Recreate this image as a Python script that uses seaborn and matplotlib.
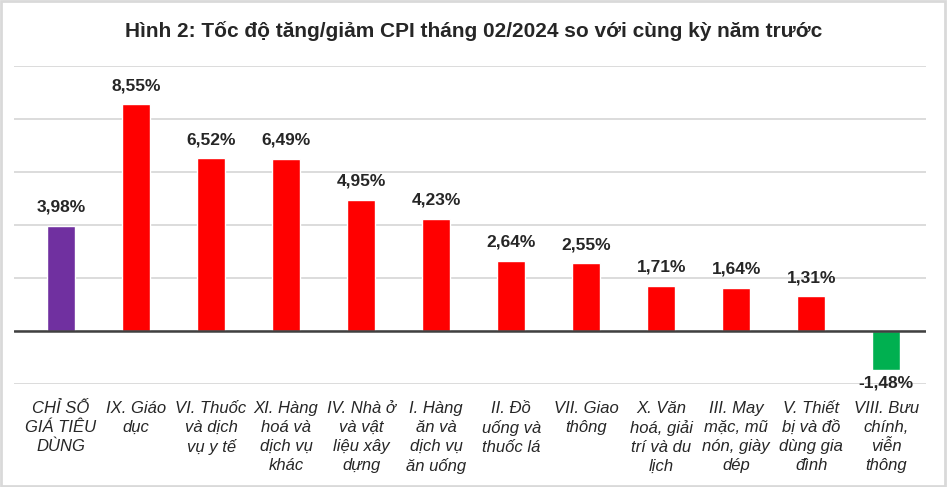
import matplotlib
matplotlib.use("Agg")
import matplotlib.pyplot as plt
import seaborn as sns
import pandas as pd

categories = [
    "CHỈ SỐ\nGIÁ TIÊU\nDÙNG",
    "IX. Giáo\ndục",
    "VI. Thuốc\nvà dịch\nvụ y tế",
    "XI. Hàng\nhoá và\ndịch vụ\nkhác",
    "IV. Nhà ở\nvà vật\nliệu xây\ndựng",
    "I. Hàng\năn và\ndịch vụ\năn uống",
    "II. Đồ\nuống và\nthuốc lá",
    "VII. Giao\nthông",
    "X. Văn\nhoá, giải\ntrí và du\nlịch",
    "III. May\nmặc, mũ\nnón, giày\ndép",
    "V. Thiết\nbị và đồ\ndùng gia\nđình",
    "VIII. Bưu\nchính,\nviễn\nthông",
]
values = [3.98, 8.55, 6.52, 6.49, 4.95, 4.23, 2.64, 2.55, 1.71, 1.64, 1.31, -1.48]
colors = ["#7030A0"] + ["#FF0000"] * 10 + ["#00B050"]
title = "Hình 2: Tốc độ tăng/giảm CPI tháng 02/2024 so với cùng kỳ năm trước"

df = pd.DataFrame({"cat": categories, "val": values})

sns.set_theme(style="white")
plt.rcParams["font.family"] = ["Liberation Sans", "DejaVu Sans"]

fig = plt.figure(figsize=(9.47, 4.87), dpi=100)
ax = fig.add_axes([0.0148, 0.2115, 0.963, 0.653])

sns.barplot(data=df, x="cat", y="val", hue="cat", palette=colors,
            legend=False, width=0.37, saturation=1, ax=ax)

ax.set_ylim(-2, 10)
ax.set_xlim(-0.627, 11.53)
ax.set_yticks([-2, 0, 2, 4, 6, 8, 10])
ax.yaxis.grid(True, color="#d9d9d9", linewidth=1.3)
ax.set_axisbelow(True)
ax.axhline(0, color="#404040", linewidth=1.8)
for s in ax.spines.values():
    s.set_visible(False)
ax.tick_params(axis="y", left=False, labelleft=False)
ax.tick_params(axis="x", bottom=False, pad=6)
ax.set_xlabel("")
ax.set_ylabel("")
ax.set_xticks(range(len(categories)))
ax.set_xticklabels(categories, fontsize=12, fontstyle="italic",
                   va="top", linespacing=1.34)

for i, v in enumerate(values):
    txt = f"{v:.2f}%".replace(".", ",")
    if v >= 0:
        ax.annotate(txt, (i, v), xytext=(0, 8), textcoords="offset points",
                    ha="center", va="bottom", fontsize=12.5, fontweight="bold")
    else:
        ax.annotate(txt, (i, v), xytext=(0, -4), textcoords="offset points",
                    ha="center", va="top", fontsize=12.5, fontweight="bold")

fig.text(0.5, 0.936, title, ha="center", va="center",
         fontsize=15, fontweight="bold")

# outer border
fig.patches.append(plt.Rectangle((0.001, 0.002), 0.997, 0.995,
                                 transform=fig.transFigure, fill=False,
                                 edgecolor="#d9d9d9", linewidth=2))

fig.savefig("out.png", dpi=100)
